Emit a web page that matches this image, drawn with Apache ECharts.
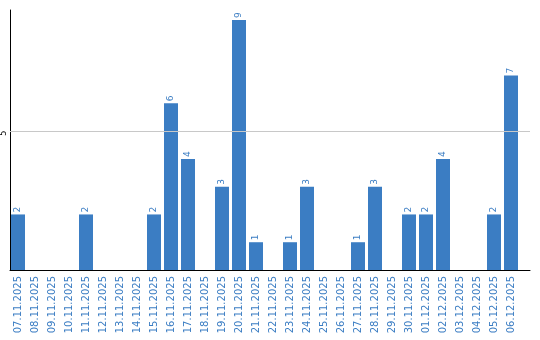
<!DOCTYPE html>
<html><head><meta charset="utf-8">
<script src="https://cdn.jsdelivr.net/npm/echarts@6/dist/echarts.min.js"></script>
<style>html,body{margin:0;padding:0;background:#fff}#c{width:540px;height:340px}</style>
</head><body><div id="c"></div>
<script>
const categories = ["07.11.2025","08.11.2025","09.11.2025","10.11.2025","11.11.2025","12.11.2025","13.11.2025","14.11.2025","15.11.2025","16.11.2025","17.11.2025","18.11.2025","19.11.2025","20.11.2025","21.11.2025","22.11.2025","23.11.2025","24.11.2025","25.11.2025","26.11.2025","27.11.2025","28.11.2025","29.11.2025","30.11.2025","01.12.2025","02.12.2025","03.12.2025","04.12.2025","05.12.2025","06.12.2025"];
const values = [2,0,0,0,2,0,0,0,2,6,4,0,3,9,1,0,1,3,0,0,1,3,0,2,2,4,0,0,2,7];
const yTicks = [5];
const yMax = 9.36;

const blue = '#3b7dc3';
const chart = echarts.init(document.getElementById('c'), null, {renderer:'canvas'});
chart.setOption({
  animation:false,
  grid:[
    {left:9.5, right:20.5, top:10, bottom:70, containLabel:false},
    {left:10, right:10, top:10, bottom:70, containLabel:false}
  ],
  xAxis:[
    {type:'category', gridIndex:0, data:categories, boundaryGap:true,
     axisLine:{show:false}, axisTick:{show:false},
     axisLabel:{rotate:90, interval:0, margin:6, color:blue, fontFamily:'DejaVu Sans', fontSize:10}},
    {type:'value', gridIndex:1, min:0, max:1,
     axisLine:{show:true, onZero:false, lineStyle:{color:'#000', width:1}},
     axisTick:{show:false}, axisLabel:{show:false}, splitLine:{show:false}}
  ],
  yAxis:[
    {type:'value', gridIndex:0, min:0, max:yMax, show:false, splitLine:{show:false}},
    {type:'value', gridIndex:1, min:0, max:yMax, interval:5,
     axisLine:{show:true, onZero:false, lineStyle:{color:'#000', width:1}},
     axisTick:{show:false}, splitLine:{show:false},
     axisLabel:{rotate:90, margin:2, color:'#000', fontFamily:'DejaVu Sans', fontSize:8,
       padding:[0,4,0,0],
       formatter:v => yTicks.includes(v) ? String(v) : ''}}
  ],
  series:[{
    type:'bar', xAxisIndex:0, yAxisIndex:0, data:values, barWidth:14,
    itemStyle:{color:blue},
    label:{show:true, position:'top', rotate:90, align:'left', verticalAlign:'middle', distance:2,
      color:blue, fontFamily:'DejaVu Sans', fontSize:9,
      formatter:p => p.value ? String(p.value) : ''},
    z:2
  },{
    type:'line', xAxisIndex:1, yAxisIndex:1, data:[], silent:true,
    markLine:{silent:true, symbol:'none', label:{show:false}, animation:false,
      lineStyle:{color:'#c8c8c8', type:'solid', width:1},
      data: yTicks.map(t => ({yAxis:t}))},
    z:1
  }]
});
</script></body></html>
